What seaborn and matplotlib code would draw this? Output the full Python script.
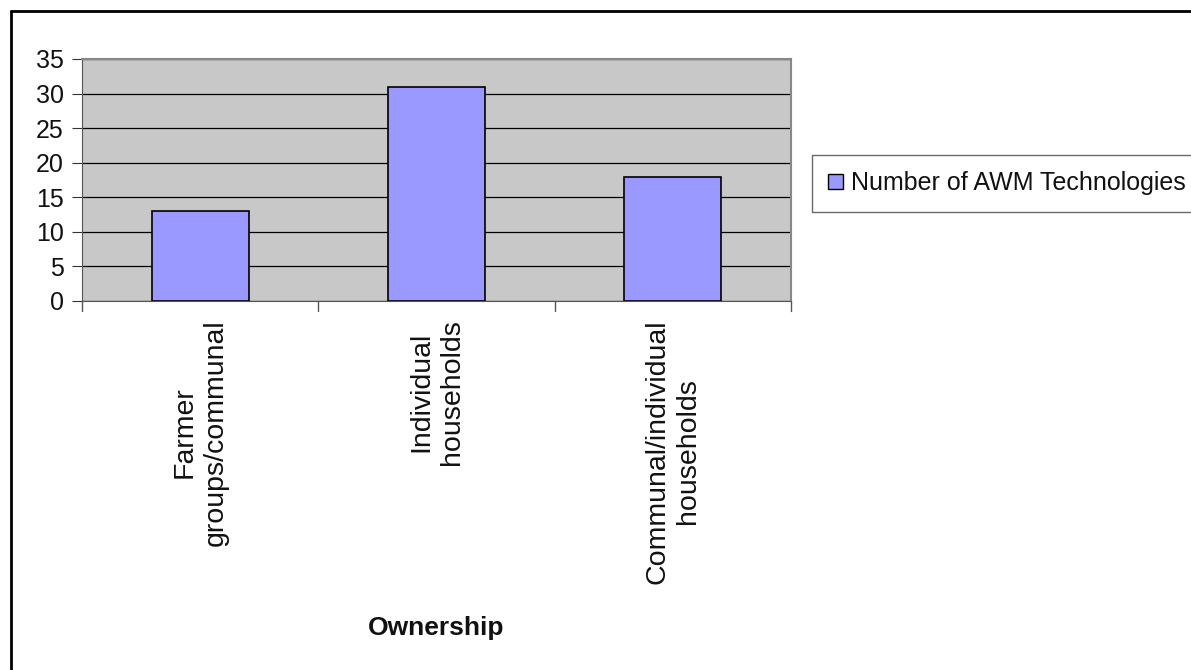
import matplotlib
matplotlib.use("Agg")
import matplotlib.pyplot as plt
import seaborn as sns
import pandas as pd
from matplotlib.lines import Line2D
from matplotlib.patches import Patch

categories = ["Farmer\ngroups/communal", "Individual\nhouseholds", "Communal/individual\nhouseholds"]
values = [13, 31, 18]
series_name = "Number of AWM Technologies"
y_ticks = [0, 5, 10, 15, 20, 25, 30, 35]

sns.set_style("white")
plt.rcParams['font.family'] = ['Liberation Sans', 'DejaVu Sans']

df = pd.DataFrame({"Ownership": categories, "Count": values})

W, H = 1191, 670
fig = plt.figure(figsize=(W / 100, H / 100), dpi=100)
ax = fig.add_axes([82 / W, 1 - 301 / H, 709 / W, 242 / H])
ax.set_facecolor("#C8C8C8")

sns.barplot(data=df, x="Ownership", y="Count", ax=ax, color="#9999FF",
            saturation=1, width=0.41, edgecolor="black", linewidth=1.2, zorder=3)

ax.set_ylim(0, 35)
ax.set_xlim(-0.5, 2.5)
ax.set_yticks(y_ticks)
ax.yaxis.grid(True, color="black", linewidth=0.9, zorder=1)
ax.set_axisbelow(True)
ax.tick_params(axis="y", labelsize=18, length=7, direction="out", color="#333333", pad=6,
               left=True, labelcolor="#111111")
ax.set_xticks([0, 1, 2])
ax.set_xticklabels(categories, rotation=90, fontsize=20.5, ha="center", va="top",
                   multialignment="center", linespacing=1.22, color="#111111")
ax.tick_params(axis="x", length=0, pad=13)
# category boundary ticks
for xb in [-0.5, 0.5, 1.5, 2.5]:
    ax.plot([xb, xb], [0, -0.04], transform=ax.get_xaxis_transform(), color="#555555",
            linewidth=1, clip_on=False)
ax.set_ylabel("")
ax.set_xlabel("Ownership", fontsize=19, fontweight="bold", color="#111111")
ax.xaxis.set_label_coords(0.5, (301 - 616) / 242)

for side in ["top", "right"]:
    ax.spines[side].set_color("#888888")
    ax.spines[side].set_linewidth(1.5)
ax.spines["left"].set_color("#555555")
ax.spines["bottom"].set_color("#555555")

handle = Patch(facecolor="#9999FF", edgecolor="black", linewidth=1)
leg = fig.legend([handle], [series_name], loc="upper left",
                 bbox_to_anchor=(812 / W, 1 - 155 / H), fontsize=18, frameon=True,
                 fancybox=False, edgecolor="#444444", handlelength=0.6, handleheight=0.6,
                 handletextpad=0.3, borderpad=0.65, borderaxespad=0)
leg.get_frame().set_linewidth(1)
for t in leg.get_texts():
    t.set_color("#111111")

# outer frame (left and top edges)
fig.add_artist(Line2D([11 / W, 11 / W], [1 - 11 / H, 0], transform=fig.transFigure, color="black", linewidth=2))
fig.add_artist(Line2D([11 / W, 1], [1 - 11 / H, 1 - 11 / H], transform=fig.transFigure, color="black", linewidth=2))

fig.savefig("out.png", dpi=100)
